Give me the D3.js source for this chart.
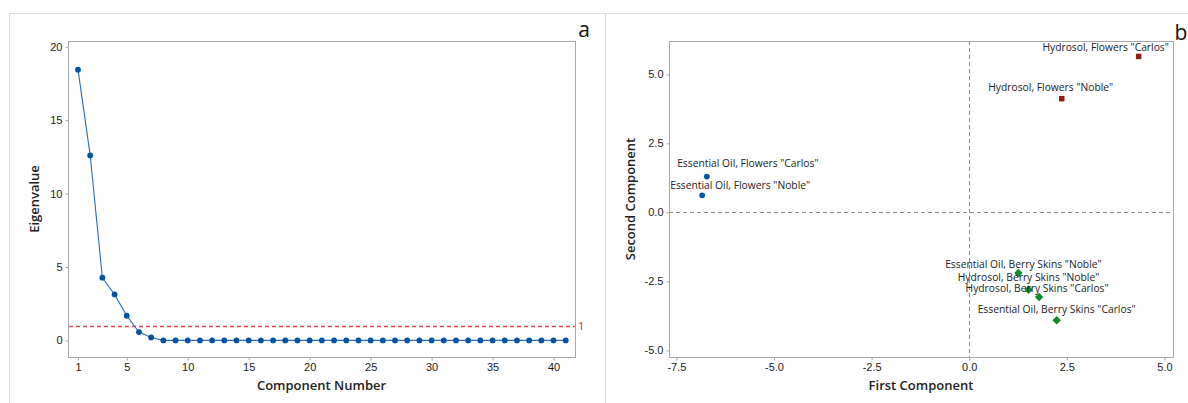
<!DOCTYPE html>
<html>
<head>
<meta charset="utf-8">
<script src="https://cdn.jsdelivr.net/npm/d3@7"></script>
<style>
  body { margin: 0; background: #fff; }
  svg { display: block; font-family: "Open Sans", "Noto Sans", sans-serif; }
</style>
</head>
<body>
<svg id="chart" width="1188" height="403"></svg>
<script>
// --- data: scree plot (panel a) ---
const componentNumbers = d3.range(1, 42);
const eigenvalues = [18.44, 12.6, 4.27, 3.13, 1.68, 0.57, 0.2,
  0, 0, 0, 0, 0, 0, 0, 0, 0, 0, 0, 0, 0, 0, 0, 0, 0, 0, 0, 0, 0, 0, 0,
  0, 0, 0, 0, 0, 0, 0, 0, 0, 0, 0];
const screeXTicks = [1, 5, 10, 15, 20, 25, 30, 35, 40];
const screeYTicks = [0, 5, 10, 15, 20];
const kaiserLine = 1;

// --- data: score plot (panel b) ---
const sampleNames = [
  'Hydrosol, Flowers "Carlos"',
  'Hydrosol, Flowers "Noble"',
  'Essential Oil, Flowers "Carlos"',
  'Essential Oil, Flowers "Noble"',
  'Essential Oil, Berry Skins "Noble"',
  'Hydrosol, Berry Skins "Noble"',
  'Hydrosol, Berry Skins "Carlos"',
  'Essential Oil, Berry Skins "Carlos"'
];
const firstComponent = [4.34, 2.37, -6.72, -6.84, 1.26, 1.52, 1.79, 2.24];
const secondComponent = [5.65, 4.12, 1.30, 0.62, -2.2, -2.8, -3.07, -3.91];
const sampleGroup = ["hydFlower", "hydFlower", "oilFlower", "oilFlower", "skins", "skins", "skins", "skins"];
const scoreTicks = [-7.5, -5.0, -2.5, 0.0, 2.5, 5.0];
const scoreYTicks = [-5.0, -2.5, 0.0, 2.5, 5.0];
// label nudges in px (dx, dy) so the texts sit like in the original
const labelShift = [[-33, -9], [-11, -11], [41, -13], [38, -10], [5, -9], [0, -12], [-2, -9], [0, -11]];

const svg = d3.select("#chart");
const blue = "#0054a6";
const boxColor = "#a8a8a8";

// panel frames
svg.append("path")
    .attr("d", "M9.5,403 V13.5 H1188 M605.5,13.5 V403")
    .attr("fill", "none")
    .attr("stroke", "#dcdcdc");

function styleAxis(g) {
    g.select(".domain").remove();
    g.selectAll(".tick line").attr("stroke", boxColor);
    g.selectAll(".tick text")
        .attr("fill", "#1a1a1a")
        .style("font-size", "11px");
}

// ---------------- Panel a ----------------
const a = { left: 68, right: 575, top: 41, bottom: 357 };

const xA = d3.scaleLinear().domain([0.18, 41.76]).range([a.left, a.right]);
const yA = d3.scaleLinear().domain([-1.13, 20.39]).range([a.bottom, a.top]);

svg.append("rect")
    .attr("x", a.left + 0.5).attr("y", a.top + 0.5)
    .attr("width", a.right - a.left).attr("height", a.bottom - a.top)
    .attr("fill", "none").attr("stroke", boxColor);

svg.append("g")
    .attr("transform", `translate(0,${a.bottom + 0.5})`)
    .call(d3.axisBottom(xA).tickValues(screeXTicks).tickSize(3).tickPadding(3))
    .call(styleAxis);

svg.append("g")
    .attr("transform", `translate(${a.left + 0.5},0)`)
    .call(d3.axisLeft(yA).tickValues(screeYTicks).tickSize(3).tickPadding(3))
    .call(styleAxis);

// reference line at eigenvalue 1
const yKaiser = Math.round(yA(kaiserLine)) + 0.5;
svg.append("line")
    .attr("x1", a.left + 1).attr("x2", a.right)
    .attr("y1", yKaiser).attr("y2", yKaiser)
    .attr("stroke", "#e4474e").attr("stroke-width", 1.3)
    .attr("stroke-dasharray", "4 3");

svg.append("text")
    .attr("x", a.right + 3).attr("y", yKaiser)
    .attr("dy", "0.35em")
    .attr("fill", "#c0282e")
    .style("font-size", "11px")
    .text(kaiserLine);

const screeData = componentNumbers.map((c, i) => ({ c, v: eigenvalues[i] }));

svg.append("path")
    .datum(screeData)
    .attr("d", d3.line().x(d => xA(d.c)).y(d => yA(d.v)))
    .attr("fill", "none")
    .attr("stroke", "#2c6cb6")
    .attr("stroke-width", 1.1);

svg.append("g")
    .selectAll("circle")
    .data(screeData)
    .join("circle")
    .attr("cx", d => xA(d.c))
    .attr("cy", d => yA(d.v))
    .attr("r", 2.9)
    .attr("fill", blue);

svg.append("text")
    .attr("x", (a.left + a.right) / 2).attr("y", 385)
    .attr("dy", "0.35em")
    .attr("text-anchor", "middle")
    .style("font-size", "13px").style("font-weight", 600).attr("fill", "#222")
    .text("Component Number");

svg.append("text")
    .attr("transform", `translate(34,${(a.top + a.bottom) / 2}) rotate(-90)`)
    .attr("dy", "0.35em")
    .attr("text-anchor", "middle")
    .style("font-size", "13px").style("font-weight", 600).attr("fill", "#222")
    .text("Eigenvalue");

svg.append("text")
    .attr("x", 584).attr("y", 30).attr("dy", "0.35em")
    .attr("text-anchor", "middle")
    .style("font-size", "21px").attr("fill", "#111")
    .text("a");

// ---------------- Panel b ----------------
const b = { left: 669, right: 1173, top: 41, bottom: 357 };

const xB = d3.scaleLinear().domain([-7.69, 5.22]).range([b.left, b.right]);
const yB = d3.scaleLinear().domain([-5.24, 6.21]).range([b.bottom, b.top]);

svg.append("rect")
    .attr("x", b.left + 0.5).attr("y", b.top + 0.5)
    .attr("width", b.right - b.left).attr("height", b.bottom - b.top)
    .attr("fill", "none").attr("stroke", boxColor);

svg.append("g")
    .attr("transform", `translate(0,${b.bottom + 0.5})`)
    .call(d3.axisBottom(xB).tickValues(scoreTicks).tickFormat(d => d.toFixed(1)).tickSize(3).tickPadding(3))
    .call(styleAxis);

svg.append("g")
    .attr("transform", `translate(${b.left + 0.5},0)`)
    .call(d3.axisLeft(yB).tickValues(scoreYTicks).tickFormat(d => d.toFixed(1)).tickSize(3).tickPadding(3))
    .call(styleAxis);

// zero reference lines
svg.append("line")
    .attr("x1", Math.round(xB(0)) + 0.5).attr("x2", Math.round(xB(0)) + 0.5)
    .attr("y1", b.top).attr("y2", b.bottom)
    .attr("stroke", "#8c8c8c").attr("stroke-dasharray", "4 3");
svg.append("line")
    .attr("x1", b.left).attr("x2", b.right)
    .attr("y1", Math.round(yB(0)) + 0.5).attr("y2", Math.round(yB(0)) + 0.5)
    .attr("stroke", "#8c8c8c").attr("stroke-dasharray", "4 3");

const scores = sampleNames.map((name, i) => ({
    name, x: firstComponent[i], y: secondComponent[i], group: sampleGroup[i], shift: labelShift[i]
}));

const markerColor = { hydFlower: "#961b1b", oilFlower: blue, skins: "#0f8a2c" };
const markerShape = {
    hydFlower: d3.symbol().type(d3.symbolSquare).size(30),
    oilFlower: d3.symbol().type(d3.symbolCircle).size(26),
    skins: d3.symbol().type(d3.symbolDiamond2).size(46)
};

svg.append("g")
    .selectAll("path")
    .data(scores)
    .join("path")
    .attr("transform", d => `translate(${xB(d.x)},${yB(d.y)})`)
    .attr("d", d => markerShape[d.group]())
    .attr("fill", d => markerColor[d.group]);

svg.append("g")
    .selectAll("text")
    .data(scores)
    .join("text")
    .attr("x", d => xB(d.x) + d.shift[0])
    .attr("y", d => yB(d.y) + d.shift[1])
    .attr("dy", "0.35em")
    .attr("text-anchor", "middle")
    .style("font-size", "10.3px")
    .attr("fill", "#222")
    .text(d => d.name);

svg.append("text")
    .attr("x", (b.left + b.right) / 2).attr("y", 385)
    .attr("dy", "0.35em")
    .attr("text-anchor", "middle")
    .style("font-size", "13px").style("font-weight", 600).attr("fill", "#222")
    .text("First Component");

svg.append("text")
    .attr("transform", `translate(630,${(b.top + b.bottom) / 2}) rotate(-90)`)
    .attr("dy", "0.35em")
    .attr("text-anchor", "middle")
    .style("font-size", "13px").style("font-weight", 600).attr("fill", "#222")
    .text("Second Component");

svg.append("text")
    .attr("x", 1181).attr("y", 33).attr("dy", "0.35em")
    .attr("text-anchor", "middle")
    .style("font-size", "21px").attr("fill", "#111")
    .text("b");
</script>
</body>
</html>
